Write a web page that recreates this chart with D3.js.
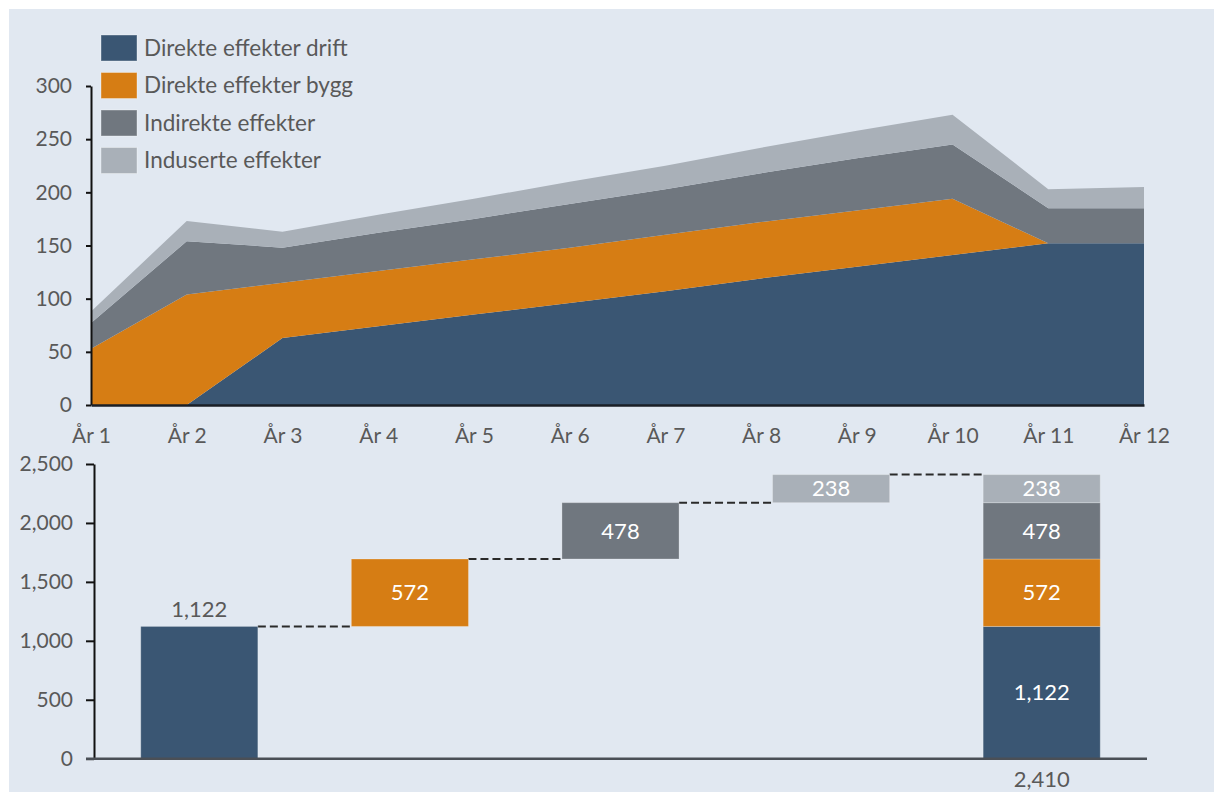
<!DOCTYPE html>
<html><head><meta charset="utf-8">
<script src="https://cdn.jsdelivr.net/npm/d3@7"></script>
<style>
body{margin:0;background:#fff;}
svg text{font-family:Lato,"Open Sans",sans-serif;}
</style>
</head><body>
<svg id="chart" width="1214" height="792"></svg>
<script>
// ---- data ----
const years = ["År 1","År 2","År 3","År 4","År 5","År 6","År 7","År 8","År 9","År 10","År 11","År 12"];
const seriesNames = ["Direkte effekter drift","Direkte effekter bygg","Indirekte effekter","Induserte effekter"];
const drift     = [0, 0, 63, 74, 85, 96, 107, 119, 130, 141, 152, 152];
const bygg      = [53, 104, 52, 52, 52, 52, 53, 53, 53, 53, 0, 0];
const indirekte = [24, 50, 33, 36, 38, 41, 43, 46, 49, 51, 33, 33];
const induserte = [11, 19, 15, 17, 19, 21, 22, 24, 26, 28, 18, 20];
const topTicks = [0, 50, 100, 150, 200, 250, 300];

const wfCategories = ["drift","bygg","indirekte","induserte","total"];
const wfValues = [1122, 572, 478, 238];
const wfTotal = 2410;
const bottomTicks = [0, 500, 1000, 1500, 2000, 2500];

const colors = ["#3a5673","#d67d14","#70777f","#a9b0b8"];
const textCol = "#595959";

const svg = d3.select("#chart");
svg.append("rect").attr("x",9).attr("y",9).attr("width",1205).attr("height",783).attr("fill","#e1e8f1");

// ---- top stacked area ----
const rows = years.map((y,i)=>({year:y, s0:drift[i], s1:bygg[i], s2:indirekte[i], s3:induserte[i]}));
const stack = d3.stack().keys(["s0","s1","s2","s3"])(rows);
const x = d3.scaleLinear().domain([0, years.length-1]).range([91, 1144]);
const y = d3.scaleLinear().domain([0, 300]).range([405, 86]);
const area = d3.area().x((d,i)=>x(i)).y0(d=>y(d[0])).y1(d=>y(d[1]));
svg.append("g").selectAll("path").data(stack).join("path")
  .attr("d", area).attr("fill",(d,i)=>colors[i]);

const yAxT = svg.append("g").attr("transform","translate(91,0)")
  .call(d3.axisLeft(y).tickValues(topTicks).tickSize(5).tickSizeOuter(0).tickPadding(14));
yAxT.select(".domain").attr("stroke","#111").attr("stroke-width",2);
yAxT.selectAll(".tick line").attr("stroke","#111").attr("stroke-width",2);
yAxT.selectAll("text").attr("fill",textCol).style("font-size","21px");

const xAxT = svg.append("g").attr("transform","translate(0,405)")
  .call(d3.axisBottom(x).tickValues(d3.range(years.length)).tickFormat(i=>years[i]).tickSize(0).tickSizeOuter(0).tickPadding(23));
xAxT.select(".domain").attr("stroke","#1a1f26").attr("stroke-width",2.5);
xAxT.selectAll("text").attr("fill",textCol).style("font-size","21px");

// legend
const lg = svg.append("g");
seriesNames.forEach((n,i)=>{
  const yy = 35 + i*37.5;
  lg.append("rect").attr("x",101).attr("y",yy).attr("width",36).attr("height",26).attr("fill",colors[i])
    .attr("stroke","rgba(255,255,255,0.35)").attr("stroke-width",1);
  lg.append("text").attr("x",144).attr("y",yy+13).attr("dy","0.35em").text(n)
    .attr("fill",textCol).style("font-size","22.5px");
});

// ---- bottom waterfall ----
const xb = d3.scaleBand().domain(wfCategories).range([94, 1147]).paddingInner(0.444).paddingOuter(0.222);
const yb = d3.scaleLinear().domain([0, 2500]).range([758.7, 464]);
const fmt = d3.format(",");

const bars = [];
let cum = 0;
wfValues.forEach((v,i)=>{ bars.push({cat:wfCategories[i], y0:cum, y1:cum+v, v, c:colors[i]}); cum += v; });
let cum2 = 0;
const totalSegs = wfValues.map((v,i)=>{ const s={cat:"total", y0:cum2, y1:cum2+v, v, c:colors[i]}; cum2+=v; return s; });

// connectors
const conn = svg.append("g");
for(let i=0;i<bars.length;i++){
  const lvl = bars[i].y1;
  const nx = wfCategories[i+1];
  conn.append("line")
    .attr("x1", xb(bars[i].cat)+xb.bandwidth()).attr("x2", xb(nx))
    .attr("y1", yb(lvl)).attr("y2", yb(lvl))
    .attr("stroke","#2a2a2a").attr("stroke-width",2).attr("stroke-dasharray","8,4");
}

const bg = svg.append("g");
bg.selectAll("rect").data(bars.concat(totalSegs)).join("rect")
  .attr("x", d=>xb(d.cat)).attr("width", xb.bandwidth())
  .attr("y", d=>yb(d.y1)).attr("height", d=>yb(d.y0)-yb(d.y1))
  .attr("fill", d=>d.c).attr("stroke","rgba(255,255,255,0.25)").attr("stroke-width",1);

bg.selectAll("text.in").data(bars.slice(1).concat(totalSegs)).join("text").attr("class","in")
  .attr("x", d=>xb(d.cat)+xb.bandwidth()/2).attr("y", d=>yb((d.y0+d.y1)/2)).attr("dy","0.35em")
  .attr("text-anchor","middle").attr("fill","#fff").style("font-size","22px").text(d=>fmt(d.v));
bg.append("text").attr("x", xb(bars[0].cat)+xb.bandwidth()/2).attr("y", yb(bars[0].y1)-9)
  .attr("text-anchor","middle").attr("fill",textCol).style("font-size","22px").text(fmt(bars[0].v));
bg.append("text").attr("x", xb("total")+xb.bandwidth()/2).attr("y", 787)
  .attr("text-anchor","middle").attr("fill",textCol).style("font-size","22px").text(fmt(wfTotal));

const yAxB = svg.append("g").attr("transform","translate(94,0)")
  .call(d3.axisLeft(yb).tickValues(bottomTicks).tickFormat(fmt).tickSize(8).tickSizeOuter(0).tickPadding(13));
yAxB.select(".domain").attr("stroke","#111").attr("stroke-width",2);
yAxB.selectAll(".tick line").attr("stroke","#111").attr("stroke-width",2);
yAxB.selectAll("text").attr("fill",textCol).style("font-size","21px");

svg.append("line").attr("x1",86).attr("x2",1147).attr("y1",yb(0)).attr("y2",yb(0))
  .attr("stroke","#4a4f56").attr("stroke-width",2.5);
</script>
</body></html>
